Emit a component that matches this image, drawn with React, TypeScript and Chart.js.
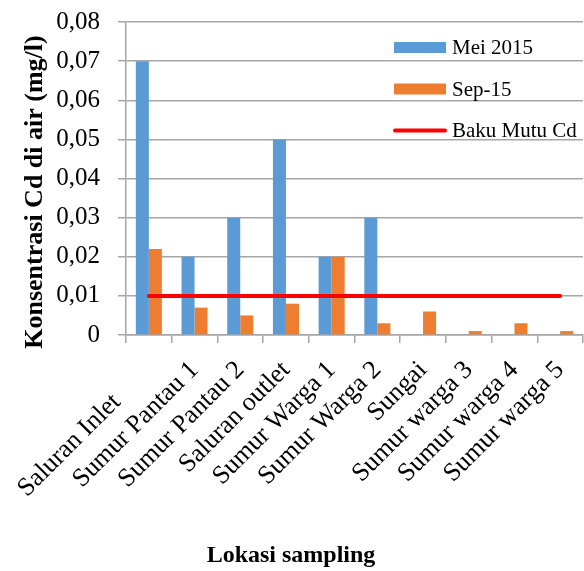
import { useEffect, useRef } from 'react';
import { Chart, registerables } from 'chart.js';

Chart.register(...registerables);

const categories = [
  'Saluran Inlet',
  'Sumur Pantau 1',
  'Sumur Pantau 2',
  'Saluran outlet',
  'Sumur Warga 1',
  'Sumur Warga 2',
  'Sungai',
  'Sumur warga 3',
  'Sumur warga 4',
  'Sumur warga 5',
];
const mei2015 = [0.07, 0.02, 0.03, 0.05, 0.02, 0.03, 0, 0, 0, 0];
const sep15 = [0.022, 0.007, 0.005, 0.008, 0.02, 0.003, 0.006, 0.001, 0.003, 0.001];
const bakuMutuCd = [0.01, 0.01, 0.01, 0.01, 0.01, 0.01, 0.01, 0.01, 0.01, 0.01];
const seriesLabels = ['Mei 2015', 'Sep-15', 'Baku Mutu Cd'];
const yMin = 0;
const yMax = 0.08;
const yStep = 0.01;
const yAxisTitle = 'Konsentrasi Cd di air (mg/l)';
const xAxisTitle = 'Lokasi sampling';

const FONT = '"Liberation Serif", "Times New Roman", serif';
const GRID = '#a6a6a6';

const titlesPlugin = {
  id: 'customTitles',
  afterDraw(chart: any) {
    const ctx = chart.ctx;
    ctx.save();
    ctx.fillStyle = '#000';
    ctx.font = `bold 26px ${FONT}`;
    ctx.textAlign = 'center';
    ctx.textBaseline = 'middle';
    ctx.translate(35, 192);
    ctx.rotate(-Math.PI / 2);
    ctx.fillText(yAxisTitle, 0, 0);
    ctx.restore();

    ctx.save();
    ctx.fillStyle = '#000';
    ctx.font = `bold 24px ${FONT}`;
    ctx.textAlign = 'center';
    ctx.textBaseline = 'middle';
    ctx.fillText(xAxisTitle, 291, 556);
    ctx.restore();
  },
};

const legendPlugin = {
  id: 'insideLegend',
  afterDraw(chart: any) {
    const ctx = chart.ctx;
    const datasets = chart.data.datasets;
    ctx.save();
    datasets.forEach((ds: any, i: number) => {
      const cy = 47.5 + i * 41.5;
      if (ds.type === 'line') {
        ctx.strokeStyle = ds.borderColor;
        ctx.lineWidth = 4;
        ctx.lineCap = 'round';
        ctx.beginPath();
        ctx.moveTo(395, cy);
        ctx.lineTo(445, cy);
        ctx.stroke();
      } else {
        ctx.fillStyle = ds.backgroundColor;
        ctx.fillRect(394, cy - 5.5, 52, 11);
      }
      ctx.fillStyle = '#000';
      ctx.font = `21px ${FONT}`;
      ctx.textAlign = 'left';
      ctx.textBaseline = 'middle';
      ctx.fillText(ds.label, 452, cy + 1);
    });
    ctx.restore();
  },
};

export default function App() {
  const ref = useRef<HTMLCanvasElement | null>(null);

  useEffect(() => {
    if (!ref.current) return;
    const chart = new Chart(ref.current, {
      type: 'bar',
      data: {
        labels: categories,
        datasets: [
          {
            type: 'bar',
            label: seriesLabels[0],
            data: mei2015,
            backgroundColor: '#5b9bd5',
            borderWidth: 0,
            order: 1,
            categoryPercentage: 0.57,
            barPercentage: 1,
          },
          {
            type: 'bar',
            label: seriesLabels[1],
            data: sep15,
            backgroundColor: '#ed7d31',
            borderWidth: 0,
            order: 1,
            categoryPercentage: 0.57,
            barPercentage: 1,
          },
          {
            type: 'line',
            label: seriesLabels[2],
            data: bakuMutuCd,
            borderColor: '#ff0000',
            backgroundColor: '#ff0000',
            borderWidth: 4,
            borderCapStyle: 'round',
            pointRadius: 0,
            fill: false,
            order: 0,
          },
        ] as any,
      },
      options: {
        responsive: false,
        animation: false,
        layout: { padding: { top: 22, right: 1, left: 0, bottom: 0 } },
        plugins: {
          legend: { display: false },
          tooltip: { enabled: false },
          title: { display: false },
        },
        scales: {
          x: {
            offset: true,
            grid: {
              offset: true,
              drawOnChartArea: false,
              drawTicks: true,
              tickLength: 8,
              color: GRID,
              lineWidth: 1.5,
            },
            border: { display: true, color: GRID, width: 1.5 },
            ticks: {
              autoSkip: false,
              maxRotation: 45,
              minRotation: 45,
              padding: 12,
              color: '#000',
              font: { family: FONT, size: 26 },
              callback: (_v: any, i: number) =>
                i === 0 ? categories[i] + '\u00A0'.repeat(7) : categories[i],
            },
            afterFit: (scale: any) => {
              scale.height = 236;
              scale.paddingLeft = 0;
              scale.paddingRight = 0;
            },
          },
          y: {
            min: yMin,
            max: yMax,
            grid: {
              color: GRID,
              tickLength: 8,
              drawTicks: true,
              lineWidth: 1.5,
            },
            border: { display: true, color: GRID, width: 1.5 },
            ticks: {
              stepSize: yStep,
              padding: 18,
              color: '#000',
              font: { family: FONT, size: 25 },
              callback: (v: any) => {
                const n = Number(v);
                if (Math.abs(n) < 1e-9) return '0';
                return n.toFixed(2).replace('.', ',');
              },
            },
            afterFit: (scale: any) => {
              scale.width = 126;
              scale.paddingTop = 0;
              scale.paddingBottom = 0;
            },
          },
        },
      } as any,
      plugins: [titlesPlugin, legendPlugin],
    });
    return () => chart.destroy();
  }, []);

  return (
    <div style={{ position: 'fixed', left: 0, top: 0, width: 584, height: 571, background: '#fff' }}>
      <canvas ref={ref} width={584} height={571} style={{ display: 'block' }} />
    </div>
  );
}
